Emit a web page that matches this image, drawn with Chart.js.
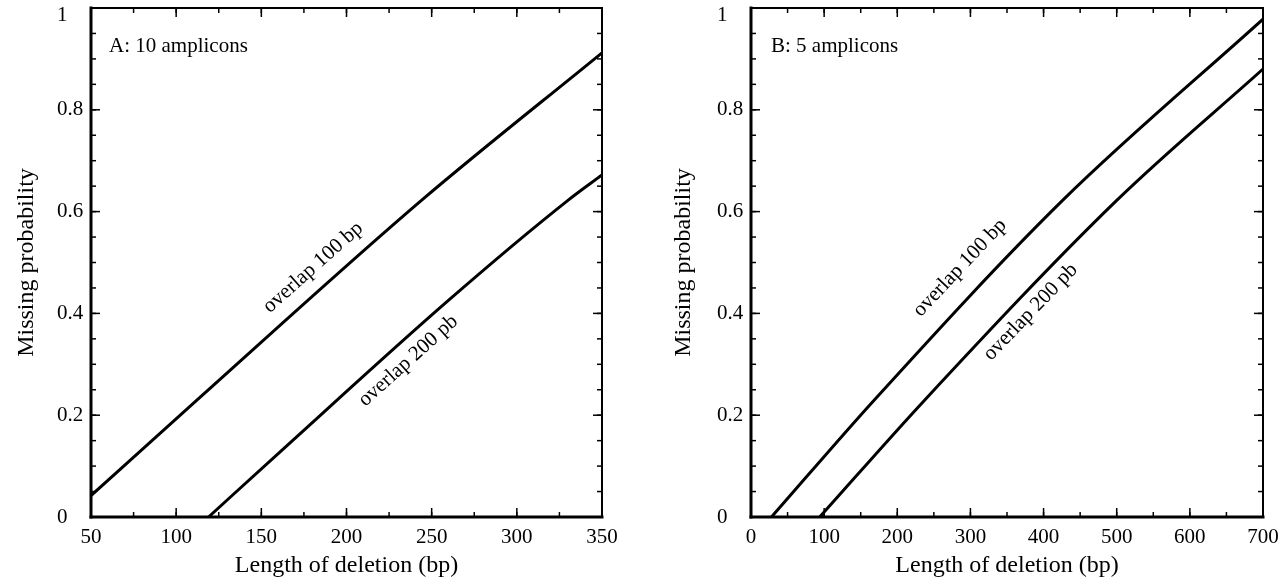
<!DOCTYPE html>
<html>
<head>
<meta charset="utf-8">
<script src="https://cdn.jsdelivr.net/npm/chart.js@4.4.1/dist/chart.umd.min.js"></script>
<style>
  body { margin: 0; background: #fff; }
  #wrap { position: relative; width: 1288px; height: 584px; }
  canvas { position: absolute; top: 0; }
</style>
</head>
<body>
<div id="wrap">
  <canvas id="chartA" width="644" height="584" style="left:0"></canvas>
  <canvas id="chartB" width="644" height="584" style="left:644px"></canvas>
</div>
<script>
// Panel A: 10 amplicons
const lengthA100 = [50, 112, 244, 350];
const probA100 = [0.042, 0.229, 0.622, 0.912];
const lengthA200 = [119, 162, 260, 330, 350];
const probA200 = [0, 0.131, 0.426, 0.622, 0.672];
const xTicksA = [50, 100, 150, 200, 250, 300, 350];

// Panel B: 5 amplicons
const lengthB100 = [28, 168, 426, 700];
const probB100 = [0, 0.229, 0.622, 0.978];
const lengthB200 = [94, 237, 500, 700];
const probB200 = [0, 0.229, 0.622, 0.88];
const xTicksB = [0, 100, 200, 300, 400, 500, 600, 700];

const yTicks = [0, 0.2, 0.4, 0.6, 0.8, 1];

const FONT = '"Liberation Serif", "Times New Roman", serif';

function toPoints(xs, ys) {
  return xs.map((x, i) => ({ x: x, y: ys[i] }));
}

function line(ctx, x1, y1, x2, y2) {
  ctx.beginPath();
  ctx.moveTo(x1, y1);
  ctx.lineTo(x2, y2);
  ctx.stroke();
}

// box around the plot with inward ticks on all four sides
const framePlugin = {
  id: 'frame',
  afterDatasetsDraw(chart, args, opts) {
    const { ctx, chartArea: a, scales: { x, y } } = chart;
    ctx.save();
    ctx.strokeStyle = '#000';
    ctx.lineWidth = 1.5;
    const tickX = (v, len) => {
      const px = x.getPixelForValue(v);
      line(ctx, px, a.bottom, px, a.bottom - len);
      line(ctx, px, a.top, px, a.top + len);
    };
    const tickY = (v, len) => {
      const py = y.getPixelForValue(v);
      line(ctx, a.left, py, a.left + len, py);
      line(ctx, a.right, py, a.right - len, py);
    };
    for (let v = x.min; v <= x.max + 1e-9; v += opts.xMinor) tickX(v, 5);
    for (let v = y.min; v <= y.max + 1e-9; v += opts.yMinor) tickY(v, 5);
    x.ticks.forEach(t => tickX(t.value, 9));
    y.ticks.forEach(t => tickY(t.value, 9));

    ctx.lineCap = 'square';
    ctx.lineWidth = 2;
    line(ctx, a.left, a.top, a.right, a.top);
    line(ctx, a.right, a.top, a.right, a.bottom);
    ctx.lineWidth = 3;
    line(ctx, a.left, a.top, a.left, a.bottom);
    line(ctx, a.left, a.bottom, a.right, a.bottom);

    ctx.fillStyle = '#000';
    ctx.font = '21px ' + FONT;

    // y tick labels, left aligned like the original; top one kept inside
    ctx.textAlign = 'left';
    ctx.textBaseline = 'middle';
    y.ticks.forEach(t => {
      const py = Math.max(y.getPixelForValue(t.value), a.top + 7);
      ctx.fillText(String(t.value), a.left - 34, py);
    });

    // panel tag
    ctx.textBaseline = 'alphabetic';
    ctx.fillText(opts.tag, a.left + opts.tagDx, a.top + 44);
    ctx.restore();
  }
};

// rotated text along the curves
const curveLabelPlugin = {
  id: 'curveLabels',
  afterDatasetsDraw(chart, args, opts) {
    const { ctx, scales: { x, y } } = chart;
    ctx.save();
    ctx.fillStyle = '#000';
    ctx.font = '21px ' + FONT;
    ctx.textAlign = 'left';
    ctx.textBaseline = 'alphabetic';
    opts.items.forEach(item => {
      const pts = chart.data.datasets[item.ds].data;
      let i = 0;
      while (i < pts.length - 2 && pts[i + 1].x < item.x) i++;
      const dx = x.getPixelForValue(pts[i + 1].x) - x.getPixelForValue(pts[i].x);
      const dy = y.getPixelForValue(pts[i + 1].y) - y.getPixelForValue(pts[i].y);
      ctx.save();
      ctx.translate(x.getPixelForValue(item.x), y.getPixelForValue(item.y));
      ctx.rotate(Math.atan2(dy, dx));
      ctx.fillText(item.text, 0, 0);
      ctx.restore();
    });
    ctx.restore();
  }
};

function makeChart(id, cfg) {
  return new Chart(document.getElementById(id), {
    type: 'scatter',
    data: {
      datasets: [
        { data: toPoints(cfg.x100, cfg.y100) },
        { data: toPoints(cfg.x200, cfg.y200) }
      ]
    },
    options: {
      responsive: false,
      animation: false,
      showLine: true,
      layout: { padding: cfg.padding },
      elements: {
        point: { radius: 0 },
        line: { borderColor: '#000', borderWidth: 3, cubicInterpolationMode: 'monotone', fill: false }
      },
      plugins: {
        legend: { display: false },
        tooltip: { enabled: false },
        frame: { xMinor: cfg.xMinor, yMinor: 0.05, tag: cfg.tag, tagDx: cfg.tagDx },
        curveLabels: { items: cfg.labels }
      },
      scales: {
        x: {
          type: 'linear',
          min: cfg.xTicks[0],
          max: cfg.xTicks[cfg.xTicks.length - 1],
          afterBuildTicks: s => { s.ticks = cfg.xTicks.map(v => ({ value: v })); },
          afterFit: s => { s.height = 67; s.paddingLeft = 0; s.paddingRight = 0; },
          grid: { display: false, drawTicks: false },
          border: { display: false },
          ticks: { color: '#000', padding: 8, maxRotation: 0, autoSkip: false, font: { family: FONT, size: 21 } },
          title: { display: true, text: 'Length of deletion (bp)', color: '#000', font: { family: FONT, size: 24 } }
        },
        y: {
          type: 'linear',
          min: 0,
          max: 1,
          afterBuildTicks: s => { s.ticks = yTicks.map(v => ({ value: v })); },
          afterFit: s => { s.width = cfg.yWidth; s.paddingTop = 0; s.paddingBottom = 0; },
          grid: { display: false, drawTicks: false },
          border: { display: false },
          ticks: { display: false },
          title: { display: true, text: 'Missing probability', color: '#000', font: { family: FONT, size: 24 } }
        }
      }
    },
    plugins: [framePlugin, curveLabelPlugin]
  });
}

makeChart('chartA', {
  x100: lengthA100, y100: probA100,
  x200: lengthA200, y200: probA200,
  xTicks: xTicksA, xMinor: 25,
  tag: 'A: 10 amplicons', tagDx: 18,
  padding: { left: 8, top: 8, right: 42, bottom: 0 },
  yWidth: 83,
  labels: [
    { text: 'overlap 100 bp', ds: 0, x: 155, y: 0.4 },
    { text: 'overlap 200 pb', ds: 1, x: 211, y: 0.216 }
  ]
});

makeChart('chartB', {
  x100: lengthB100, y100: probB100,
  x200: lengthB200, y200: probB200,
  xTicks: xTicksB, xMinor: 50,
  tag: 'B: 5 amplicons', tagDx: 20,
  padding: { left: 21, top: 8, right: 25, bottom: 0 },
  yWidth: 86,
  labels: [
    { text: 'overlap 100 bp', ds: 0, x: 232, y: 0.392 },
    { text: 'overlap 200 pb', ds: 1, x: 328, y: 0.306 }
  ]
});
</script>
</body>
</html>
